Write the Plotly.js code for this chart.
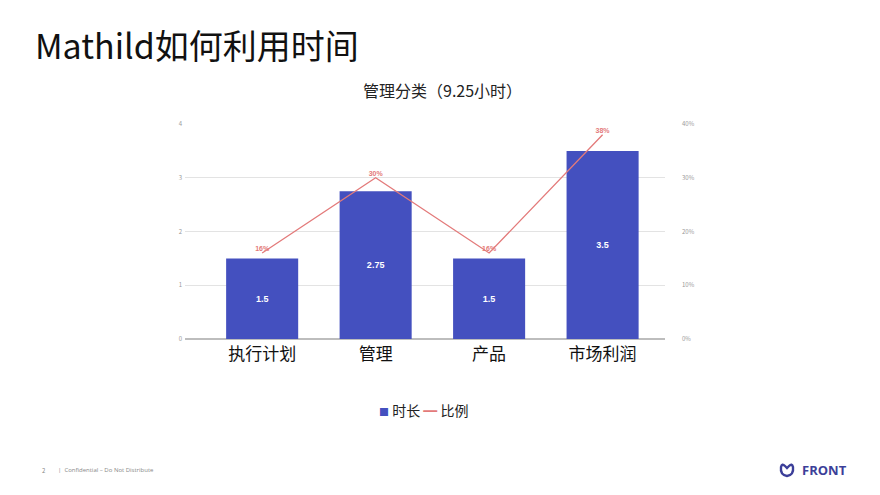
<!DOCTYPE html>
<html>
<head>
<meta charset="utf-8">
<script src="https://cdn.plot.ly/plotly-3.0.1.min.js"></script>
<style>html,body{margin:0;padding:0;background:#fff;}#chart{width:880px;height:495px;}</style>
</head>
<body>
<div id="chart"></div>
<script>
const categories = ["执行计划", "管理", "产品", "市场利润"];
const hours = [1.5, 2.75, 1.5, 3.5];
const ratio = [0.16, 0.30, 0.16, 0.38];
const ratioLabels = ["16%", "30%", "16%", "38%"];
const hourLabels = ["1.5", "2.75", "1.5", "3.5"];
const leftTicks = [0, 1, 2, 3, 4];
const rightTicks = [0, 0.1, 0.2, 0.3, 0.4];
const rightTickText = ["0%", "10%", "20%", "30%", "40%"];
const seriesNames = ["时长", "比例"];
const barColor = "#4450bf";
const lineColor = "#e37a7a";

const font = "'Noto Sans CJK SC', 'Noto Sans', sans-serif";

const traces = [
  {
    type: "bar", name: seriesNames[0], x: categories, y: hours,
    width: 0.635,
    marker: {color: barColor},
    text: hourLabels, textposition: "inside", insidetextanchor: "middle",
    textfont: {color: "#ffffff", size: 9, family: "Arial, sans-serif", weight: "bold"},
    hoverinfo: "none", yaxis: "y", showlegend: false
  },
  {
    type: "scatter", mode: "lines+text", name: seriesNames[1], x: categories, y: ratio,
    line: {color: lineColor, width: 1.3},
    text: ratioLabels, textposition: "top center",
    textfont: {color: lineColor, size: 7, family: "Arial, sans-serif", weight: "bold"},
    yaxis: "y2", hoverinfo: "none", cliponaxis: false, showlegend: false
  }
];

const PW = 480, PH = 215, L = 185, T = 124;
const px = x => (x - L) / PW;
const py = y => 1 - (y - T) / PH;

const layout = {
  width: 880, height: 495,
  paper_bgcolor: "#ffffff", plot_bgcolor: "#ffffff",
  margin: {l: 185, r: 215, t: 124, b: 156},
  font: {family: font},
  showlegend: false,
  xaxis: {
    type: "category", range: [-0.68, 3.55], showgrid: false, zeroline: false,
    showline: false, ticks: "", tickfont: {size: 17, color: "#111", family: font},
    ticklabelstandoff: 3
  },
  yaxis: {
    range: [0, 4], tickvals: leftTicks, ticktext: leftTicks.map(String),
    showgrid: true, gridcolor: "#e3e3e3", gridwidth: 1.3, zeroline: true, zerolinecolor: "#bdbdbd", zerolinewidth: 1.5,
    tickfont: {size: 6, color: "#999"}, ticks: "", ticklabelstandoff: 2
  },
  yaxis2: {
    range: [0, 0.4], overlaying: "y", side: "right", tickvals: rightTicks, ticktext: rightTickText,
    showgrid: false, zeroline: false, tickfont: {size: 6, color: "#999"}, ticks: "", ticklabelstandoff: 16
  },
  annotations: [
    {text: "Mathild如何利用时间", xref: "paper", yref: "paper", x: px(33), y: py(45),
     xanchor: "left", yanchor: "middle", showarrow: false,
     font: {size: 34, color: "#111", family: font}},
    {text: "管理分类（9.25小时）", xref: "paper", yref: "paper", x: px(442), y: py(90),
     xanchor: "center", yanchor: "middle", showarrow: false,
     font: {size: 16, color: "#222", family: font}},
    {text: "<span style='color:" + barColor + ";font-size:10px'>■</span> " + seriesNames[0] +
           "<span style='color:" + lineColor + ";font-weight:bold'> ━ </span>" + seriesNames[1],
     xref: "paper", yref: "paper", x: px(424), y: py(410),
     xanchor: "center", yanchor: "middle", showarrow: false,
     font: {size: 14, color: "#222", family: font}},
    {text: "2", xref: "paper", yref: "paper", x: px(40), y: py(470),
     xanchor: "left", yanchor: "middle", showarrow: false, font: {size: 6, color: "#888"}},
    {text: "|  Confidential – Do Not Distribute", xref: "paper", yref: "paper", x: px(56), y: py(470),
     xanchor: "left", yanchor: "middle", showarrow: false, font: {size: 6, color: "#888", family: "'Open Sans', sans-serif"}},
    {text: "<b>FRONT</b>", xref: "paper", yref: "paper", x: px(800), y: py(470),
     xanchor: "left", yanchor: "middle", showarrow: false, font: {size: 13, color: "#3c3f99", family: "'Open Sans', sans-serif"}}
  ],
  shapes: [
    {type: "path", xref: "paper", yref: "paper", xsizemode: "pixel", ysizemode: "pixel",
     xanchor: px(787), yanchor: py(470),
     path: "M -6 3 Q -7 -5 0 -6 Q 7 -5 6 3 Q 5 7 2 4 L 0 2 L -2 4 Q -5 7 -6 3 Z",
     line: {color: "#3c3f99", width: 2.4}, fillcolor: "rgba(0,0,0,0)"}
  ]
};

Plotly.newPlot("chart", traces, layout, {displayModeBar: false, staticPlot: true});
</script>
</body>
</html>
